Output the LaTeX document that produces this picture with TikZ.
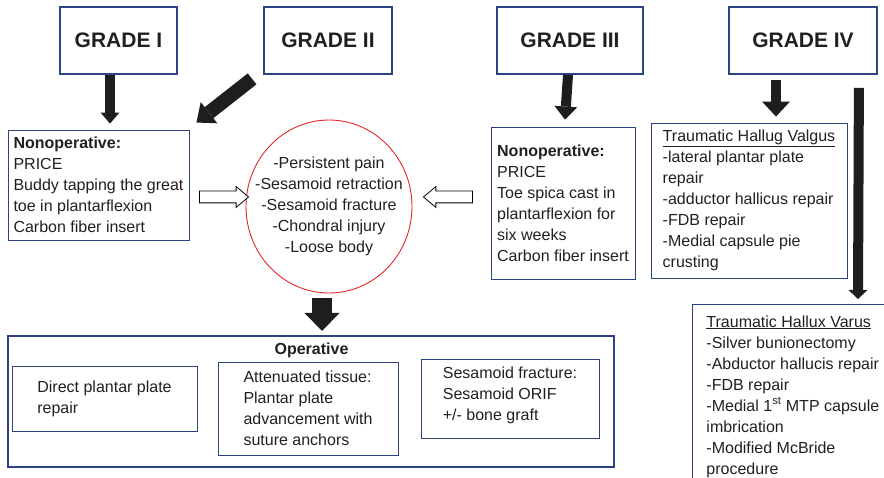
\documentclass[tikz,border=0pt]{standalone}
\usepackage{fontspec}
\setmainfont{Liberation Sans}
\usetikzlibrary{arrows.meta,shapes.geometric,shapes.arrows}
\definecolor{boxblue}{HTML}{2E4385}
\definecolor{inkgray}{HTML}{231F20}
\definecolor{arrowblack}{HTML}{1E1E1E}
\definecolor{ringred}{HTML}{E3262B}
\tikzset{
	gradebox/.style={draw=boxblue, line width=1.8pt, minimum height=67pt, inner sep=0pt, text=inkgray, font=\fontsize{21}{25}\selectfont\bfseries},
	txtbox/.style={draw=boxblue, line width=0.9pt, inner sep=0pt, align=left, text=inkgray, font=\fontsize{16}{21}\selectfont},
	bigarrow/.style n args={3}{draw=arrowblack, line width=#1, -{Triangle[width=#2,length=#3,line width=0pt]}},
	hollowarrow/.style={draw=black, fill=white, line width=0.8pt, single arrow, single arrow head extend=4.5pt, single arrow tip angle=80, minimum height=49pt, inner xsep=0pt, inner ysep=5.5pt}
}
\begin{document}
\begin{tikzpicture}[x=1pt,y=-1pt]
		
		\useasboundingbox (0,0) rectangle (884,478);
		
		\node[gradebox, minimum width=117pt] (g1) at (118.5,40.5) {GRADE I};
		\node[gradebox, minimum width=128pt] (g2) at (328,40.5) {GRADE II};
		\node[gradebox, minimum width=146pt] (g3) at (570,40.5) {GRADE III};
		\node[gradebox, minimum width=148pt] (g4) at (803,40.5) {GRADE IV};
		
		\node[txtbox, minimum width=181pt, minimum height=110pt] (nonop1) at (98.5,185) {\textbf{Nonoperative:}\\PRICE\\Buddy tapping the great\\toe in plantarflexion\\Carbon fiber insert};
		\node[ellipse, draw=ringred, line width=0.9pt, minimum width=166pt, minimum height=173pt, inner sep=0pt] (circ) at (329,206.5) {};
		\node[align=center, inner sep=0pt, text=inkgray, font=\fontsize{16}{21}\selectfont] (circtxt) at (circ.center) {-Persistent pain\\-Sesamoid retraction\\-Sesamoid fracture\\-Chondral injury\\-Loose body};
		\node[txtbox, minimum width=144pt, minimum height=152pt] (nonop3) at (563,203) {\textbf{Nonoperative:}\\PRICE\\Toe spica cast in\\plantarflexion for\\six weeks\\Carbon fiber insert};
		\node[txtbox, minimum width=196pt, minimum height=155pt] (valgus) at (749,200.5) {\underline{Traumatic Hallug Valgus}\\-lateral plantar plate\\repair\\-adductor hallicus repair\\-FDB repair\\-Medial capsule pie\\crusting};
		\node[txtbox, inner xsep=14pt, inner ysep=11pt, anchor=north west] (varus) at (692,304) {\underline{Traumatic Hallux Varus}\\-Silver bunionectomy\\-Abductor hallucis repair\\-FDB repair\\-Medial 1\textsuperscript{st} MTP capsule\\imbrication\\-Modified McBride\\procedure};
		
		\node[hollowarrow] (h1) at (220.5,197) {};
		\node[hollowarrow, shape border rotate=180] (h3) at (451.5,197) {};
		
		\node[draw=boxblue, line width=2pt, minimum width=606pt, minimum height=131pt, inner sep=0pt] (oper) at (311,401.5) {};
		\node[anchor=base, inner sep=0pt, text=inkgray, font=\fontsize{16}{21}\selectfont\bfseries] (opertitle) at (311.5,354.7) {Operative};
		\node[txtbox, minimum width=185pt, minimum height=65pt] (ob1) at (104.5,398.5) {Direct plantar plate\\repair};
		\node[txtbox, minimum width=180pt, minimum height=93pt] (ob2) at (308,408.5) {Attenuated tissue:\\Plantar plate\\advancement with\\suture anchors};
		\node[txtbox, minimum width=178pt, minimum height=79pt, text depth=9pt] (ob3) at (510,398.5) {Sesamoid fracture:\\Sesamoid ORIF\\+/- bone graft};
		
		\draw[bigarrow={10pt}{19pt}{11pt}] ([xshift=-8.5pt]g1.south) -- ([xshift=11.5pt,yshift=6pt]nonop1.north);
		\draw[bigarrow={14pt}{27pt}{16pt}] ([xshift=-11pt,yshift=-4pt]g2.south west) -- ([xshift=7pt,yshift=7pt]nonop1.north east);
		\draw[bigarrow={10pt}{23pt}{13pt}] ([xshift=-2pt]g3.south) -- ([xshift=2pt,yshift=7pt]nonop3.north);
		\draw[bigarrow={10pt}{28pt}{15pt}] ([xshift=-27pt,yshift=-5pt]g4.south) -- ([xshift=27pt,yshift=6pt]valgus.north);
		\draw[bigarrow={10pt}{19pt}{9pt}] ([xshift=-19pt,yshift=-13pt]g4.south east) -- ([xshift=166pt,yshift=5pt]varus.north west);
		\draw[bigarrow={20pt}{35pt}{18pt}] ([xshift=-7pt,yshift=-5pt]circ.south) -- ([xshift=11pt,yshift=4pt]oper.north);
		
	\end{tikzpicture}
\end{document}
